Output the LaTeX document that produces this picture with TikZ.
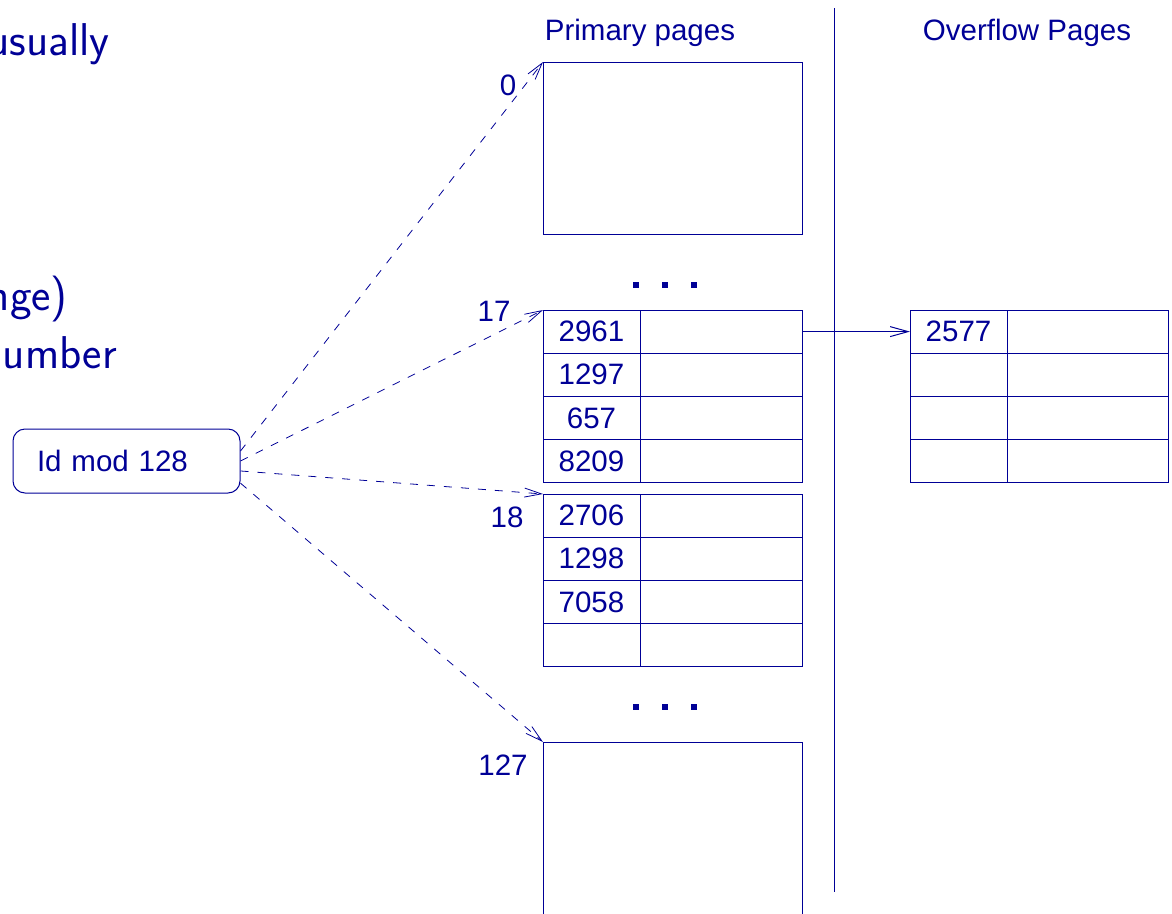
\documentclass[tikz,border=0pt]{standalone}
\usepackage{fontspec}
\newfontfamily\diagfont{Liberation Sans}
\usetikzlibrary{positioning}
\usetikzlibrary{arrows.meta}

\definecolor{slideblue}{RGB}{0,0,150}

\tikzset{
  cell/.style={draw=slideblue, line width=1pt, minimum height=43.2pt, inner sep=0pt, outer sep=0pt,
    text=slideblue, font=\diagfont\fontsize{29.5}{33}\selectfont},
  keycell/.style={cell, minimum width=97pt},
  ptrcell/.style={cell, minimum width=162pt},
  page/.style={draw=slideblue, line width=1pt, inner sep=0pt, outer sep=0pt, minimum width=259pt, anchor=north west},
  tag/.style={text=slideblue, font=\diagfont\fontsize{29.5}{33}\selectfont, inner sep=0pt},
  hashbox/.style={draw=slideblue, line width=1pt, rounded corners=12pt, minimum width=227pt, minimum height=64pt,
    inner xsep=24pt, text width=179pt, align=left, text=slideblue, font=\diagfont\fontsize{29.5}{33}\selectfont},
  hashto/.style={draw=slideblue, line width=.8pt, dash pattern=on 8pt off 9pt, -{Straight Barb[length=17pt,width=9pt]}},
  chain/.style={draw=slideblue, line width=1pt, -{Straight Barb[length=18pt,width=10pt]}},
  slidetext/.style={text=slideblue, font=\sffamily\fontsize{46}{54}\selectfont, inner sep=0pt, anchor=base east}
}

\begin{document}
\begin{tikzpicture}[x=1pt,y=-1pt]
\useasboundingbox (0,0) rectangle (1172,913);

% slide text, cut at the left
\node[slidetext] (t1) at (110,55) {usually};
\node[slidetext] (t2) at (68,310) {nge)};
\node[slidetext] (t3) at (117,368) {umber};

% hash function
\node[hashbox] (hash) at (126.5,461) {Id mod 128};

% headers and divider
\node[tag, anchor=base] (prim) at (640,40) {Primary pages};
\node[tag, anchor=base] (over) at (1027,40) {Overflow Pages};
\draw [slideblue, line width=1pt] (834,8) -- (834,892);

% bucket 0
\node[page, minimum height=172pt] (p0) at (543,62) {};
\node[tag] (n0) at (508,85) {0};

\foreach \x in {636,665,694} \fill [slideblue] (\x-3,282) rectangle +(6,6);

% bucket 17
\node[keycell, anchor=north west] (k17a) at (543,310) {2961};
\node[keycell, below=0pt of k17a] (k17b) {1297};
\node[keycell, below=0pt of k17b] (k17c) {657};
\node[keycell, below=0pt of k17c] (k17d) {8209};
\node[ptrcell, right=0pt of k17a] (v17a) {};
\node[ptrcell, right=0pt of k17b] (v17b) {};
\node[ptrcell, right=0pt of k17c] (v17c) {};
\node[ptrcell, right=0pt of k17d] (v17d) {};
\node[tag] (n17) at (494,311) {17};

% bucket 18
\node[keycell, anchor=north west] (k18a) at (543,494) {2706};
\node[keycell, below=0pt of k18a] (k18b) {1298};
\node[keycell, below=0pt of k18b] (k18c) {7058};
\node[keycell, below=0pt of k18c] (k18d) {};
\node[ptrcell, right=0pt of k18a] (v18a) {};
\node[ptrcell, right=0pt of k18b] (v18b) {};
\node[ptrcell, right=0pt of k18c] (v18c) {};
\node[ptrcell, right=0pt of k18d] (v18d) {};
\node[tag] (n18) at (507,517) {18};

\foreach \x in {636,665,694} \fill [slideblue] (\x-3,704) rectangle +(6,6);

% bucket 127
\node[page, minimum height=200pt] (p127) at (543,742) {};
\node[tag] (n127) at (503,765) {127};

% overflow page
\node[keycell, anchor=north west] (ka) at (910,310) {2577};
\node[keycell, below=0pt of ka] (kb) {};
\node[keycell, below=0pt of kb] (kc) {};
\node[keycell, below=0pt of kc] (kd) {};
\node[ptrcell, minimum width=161pt, right=0pt of ka] (va) {};
\node[ptrcell, minimum width=161pt, right=0pt of kb] (vb) {};
\node[ptrcell, minimum width=161pt, right=0pt of kc] (vc) {};
\node[ptrcell, minimum width=161pt, right=0pt of kd] (vd) {};

% pointers
\draw [hashto] (hash.5.5) -- (p0.north west);
\draw [hashto] (hash.0.5) -- (k17a.north west);
\draw [hashto] (hash.-5.5) -- (k18a.north west);
\draw [hashto] (hash.-11) -- (p127.north west);
\draw [chain] (v17a.east) -- (ka.west);
\end{tikzpicture}
\end{document}
